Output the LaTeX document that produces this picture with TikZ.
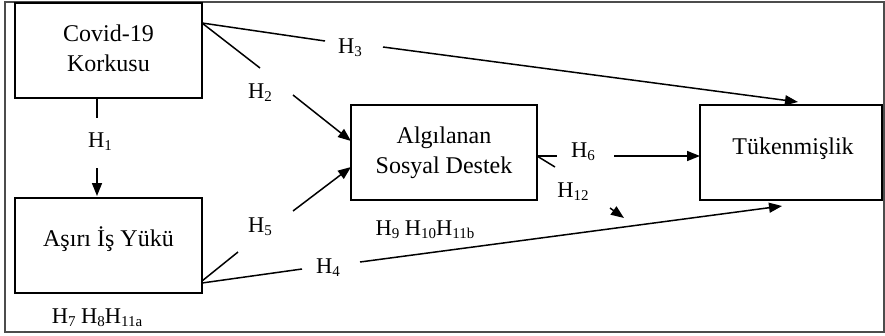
\documentclass[tikz,border=0pt]{standalone}
\usepackage{fontspec}
\setmainfont{Liberation Serif}
\usetikzlibrary{arrows.meta}
\newcommand\subsc[1]{\raisebox{-3pt}{\fontsize{15}{15}\selectfont #1}}
\begin{document}
\begin{tikzpicture}[x=1pt,y=-1pt,
  box/.style={draw,line width=1.6pt,minimum height=95pt,inner sep=0pt},
  txt/.style={font=\fontsize{24}{30}\selectfont,align=center,inner sep=0pt},
  hl/.style={font=\fontsize{22.5}{26}\selectfont,inner sep=0pt,anchor=base},
  conn/.style={line width=1.5pt},
  arr/.style={conn,-{Triangle[length=13pt,width=10pt]}}]
\useasboundingbox (0,0) rectangle (885,335);
\node[draw=black!70,line width=2pt,minimum width=879pt,minimum height=330pt,inner sep=0pt] (frame) at (444,166.5) {};
% boxes
\node[box,minimum width=187pt] (cov) at (108.5,50.5) {};
\node[box,minimum width=187pt] (asiri) at (108.5,245.5) {};
\node[box,minimum width=186pt] (alg) at (444,152.5) {};
\node[box,minimum width=182pt] (tuk) at (791,152.5) {};
\node[txt] (covt) at (108.5,48) {Covid-19\\Korkusu};
\node[txt] (asirit) at (108.5,239.5) {Aşırı İş Yükü};
\node[txt] (algt) at (444,152.4) {Algılanan\\Sosyal Destek};
\node[txt] (tukt) at (793,148.3) {Tükenmişlik};
% labels
\node[hl] (h1) at (100,147) {H\subsc{1}};
\node[hl] (h2) at (260,98) {H\subsc{2}};
\node[hl] (h3) at (350,53) {H\subsc{3}};
\node[hl] (h4) at (328,273) {H\subsc{4}};
\node[hl] (h5) at (260,232) {H\subsc{5}};
\node[hl] (h6) at (583,157) {H\subsc{6}};
\node[hl] (h12) at (573,197) {H\subsc{12}};
\node[hl] (hb) at (425,235) {H\subsc{9} H\subsc{10}H\subsc{11b}};
\node[hl] (ha) at (97,323) {H\subsc{7} H\subsc{8}H\subsc{11a}};
% connector points
\coordinate (c1a) at (97,98);   \coordinate (c1b) at (97,118);
\coordinate (c1c) at (97,168);  \coordinate (c1d) at (97,196);
\coordinate (cne) at (202,23);
\coordinate (c2a) at (260,68);  \coordinate (c2b) at (293,95);  \coordinate (c2c) at (351,141);
\coordinate (c3a) at (325,41);  \coordinate (c3b) at (383,47);  \coordinate (c3c) at (798,102);
\coordinate (cse) at (202,283);
\coordinate (c4a) at (302,269); \coordinate (c4b) at (360,262); \coordinate (c4c) at (782,206);
\coordinate (c5s) at (202,281);
\coordinate (c5a) at (238,252); \coordinate (c5b) at (293,211); \coordinate (c5c) at (351,167);
\coordinate (c6s) at (537,156);
\coordinate (c6a) at (557,156); \coordinate (c6b) at (614,156); \coordinate (c6c) at (700,156);
\coordinate (c12a) at (555,167); \coordinate (c12b) at (610,208); \coordinate (c12c) at (624,218);
% connectors
\draw[conn] (c1a) -- (c1b);  \draw[arr] (c1c) -- (c1d);
\draw[conn] (cne) -- (c2a);  \draw[arr] (c2b) -- (c2c);
\draw[conn] (cne) -- (c3a);  \draw[arr] (c3b) -- (c3c);
\draw[conn] (cse) -- (c4a);  \draw[arr] (c4b) -- (c4c);
\draw[conn] (c5s) -- (c5a);  \draw[arr] (c5b) -- (c5c);
\draw[conn] (c6s) -- (c6a);  \draw[arr] (c6b) -- (c6c);
\draw[conn] (c6s) -- (c12a); \draw[arr] (c12b) -- (c12c);
\end{tikzpicture}
\end{document}
